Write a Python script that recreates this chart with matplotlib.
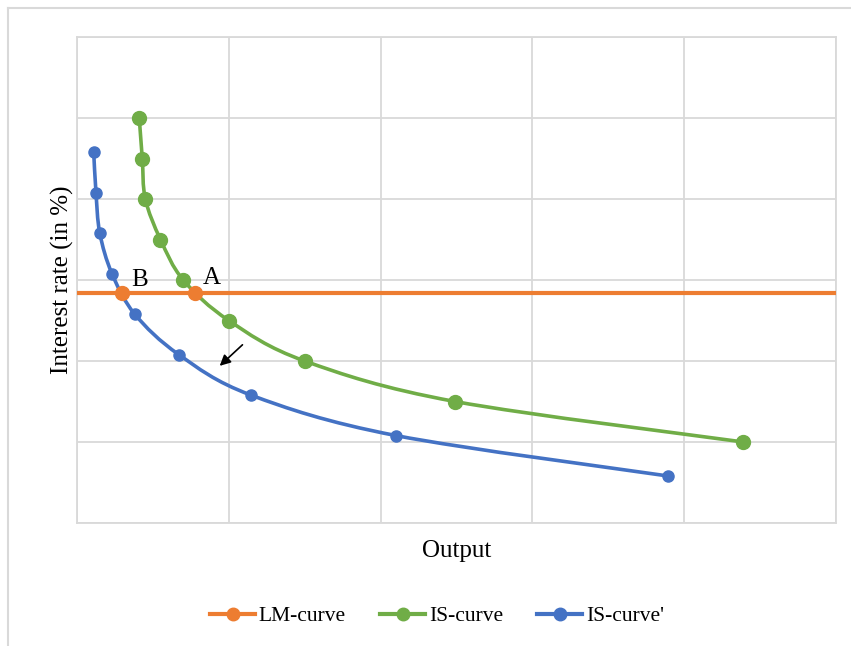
import numpy as np
import matplotlib
matplotlib.use("Agg")
import matplotlib.pyplot as plt
from matplotlib.path import Path
from matplotlib.patches import PathPatch
from matplotlib.lines import Line2D

plt.rcParams['font.family'] = ['Liberation Serif', 'DejaVu Serif']

# data (axis units, no tick labels in the original)
is_x = [0.41, 0.43, 0.45, 0.55, 0.70, 1.00, 1.50, 2.49, 4.39]
is_y = [5.0, 4.5, 4.0, 3.5, 3.0, 2.5, 2.0, 1.5, 1.0]
is2_x = [0.11, 0.125, 0.15, 0.23, 0.38, 0.67, 1.145, 2.10, 3.895]
is2_y = [4.58, 4.08, 3.58, 3.08, 2.58, 2.08, 1.58, 1.08, 0.58]
lm_x = [0.0, 0.296, 0.776, 5.0]
lm_y = [2.84, 2.84, 2.84, 2.84]

ORANGE = '#ED7D31'
GREEN = '#70AD47'
BLUE = '#4472C4'
GRID = '#d9d9d9'


def smooth_path(xs, ys):
    # Excel-like smoothed line: Catmull-Rom turned into cubic beziers
    pts = np.column_stack([xs, ys])
    n = len(pts)
    verts = [pts[0]]
    codes = [Path.MOVETO]
    for i in range(n - 1):
        p0 = pts[i - 1] if i > 0 else pts[i]
        p1 = pts[i]
        p2 = pts[i + 1]
        p3 = pts[i + 2] if i + 2 < n else pts[i + 1]
        c1 = p1 + (p2 - p0) / 6.0
        c2 = p2 - (p3 - p1) / 6.0
        verts += [c1, c2, p2]
        codes += [Path.CURVE4] * 3
    return Path(verts, codes)


fig = plt.figure(figsize=(8.51, 6.46), dpi=100)
ax = fig.add_axes([77 / 851, 1 - 523 / 646, (836 - 77) / 851, (523 - 37) / 646])

ax.set_xlim(0, 5)
ax.set_ylim(0, 6)
ax.set_xticks(np.arange(0, 6, 1))
ax.set_yticks(np.arange(0, 7, 1))
ax.tick_params(length=0, labelbottom=False, labelleft=False)
ax.grid(True, color=GRID, linewidth=1.3)
ax.set_axisbelow(True)
for s in ax.spines.values():
    s.set_color(GRID)
    s.set_linewidth(1.3)

# LM-curve
ax.plot(lm_x, lm_y, color=ORANGE, linewidth=3, zorder=3, solid_capstyle='butt')
ax.plot(lm_x[1:3], lm_y[1:3], linestyle='none', marker='o', markersize=10,
        color=ORANGE, zorder=6)

# IS-curve
ax.add_patch(PathPatch(smooth_path(is_x, is_y), facecolor='none', edgecolor=GREEN,
                       linewidth=2.6, zorder=4))
ax.plot(is_x, is_y, linestyle='none', marker='o', markersize=10, color=GREEN, zorder=5)

# IS-curve'
ax.add_patch(PathPatch(smooth_path(is2_x, is2_y), facecolor='none', edgecolor=BLUE,
                       linewidth=2.6, zorder=4))
ax.plot(is2_x, is2_y, linestyle='none', marker='o', markersize=8, color=BLUE, zorder=5)

ax.text(0.89, 3.03, 'A', fontsize=18, ha='center', va='center', zorder=7)
ax.text(0.415, 3.0, 'B', fontsize=18, ha='center', va='center', zorder=7)

ax.annotate('', xy=(0.94, 1.94), xytext=(1.09, 2.2),
            arrowprops=dict(arrowstyle='-|>', color='black', lw=1.2,
                            mutation_scale=16, shrinkA=0, shrinkB=0), zorder=7)

ax.set_xlabel('Output', fontsize=18, labelpad=12)
ax.set_ylabel('Interest rate (in %)', fontsize=18, labelpad=2)

handles = [
    Line2D([], [], color=ORANGE, linewidth=3, marker='o', markersize=9),
    Line2D([], [], color=GREEN, linewidth=3, marker='o', markersize=9),
    Line2D([], [], color=BLUE, linewidth=3, marker='o', markersize=9),
]
fig.legend(handles, ['LM-curve', 'IS-curve', "IS-curve'"], loc='center',
           bbox_to_anchor=(437 / 851, 1 - 616 / 646), ncol=3, frameon=False,
           fontsize=15.5, handlelength=2.1, columnspacing=1.6, handletextpad=0.15)

# outer chart border (top and left visible)
fig.add_artist(Line2D([8 / 851, 8 / 851], [0, 1 - 8 / 646], color=GRID, linewidth=1.5,
                      transform=fig.transFigure))
fig.add_artist(Line2D([8 / 851, 1], [1 - 8 / 646, 1 - 8 / 646], color=GRID, linewidth=1.5,
                      transform=fig.transFigure))

fig.savefig('out.png', dpi=100)
